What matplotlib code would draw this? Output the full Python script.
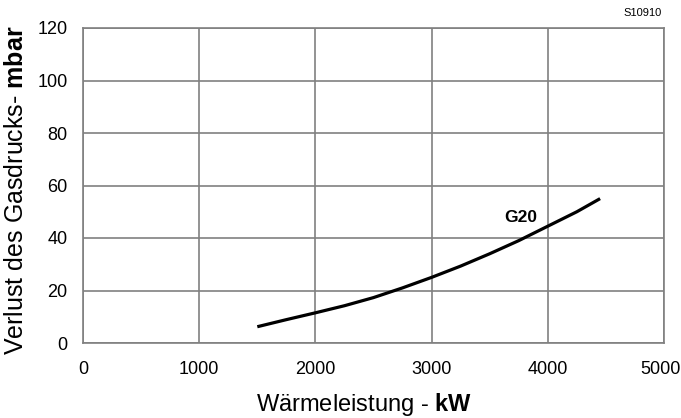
import numpy as np
import matplotlib.pyplot as plt
from matplotlib.transforms import ScaledTranslation

plt.rcParams['font.family'] = ['Liberation Sans', 'DejaVu Sans']
plt.rcParams['mathtext.fontset'] = 'custom'
plt.rcParams['mathtext.rm'] = 'Liberation Sans'
plt.rcParams['mathtext.bf'] = 'Liberation Sans:bold'

# G20 curve
power_kw = [1500, 1750, 2000, 2250, 2500, 2750, 3000, 3250, 3500, 3750, 4000, 4250, 4450]
loss_mbar = [6.2, 8.9, 11.5, 14.2, 17.3, 21.0, 25.0, 29.3, 34.0, 39.0, 44.5, 50.0, 55.0]

x_ticks = [0, 1000, 2000, 3000, 4000, 5000]
y_ticks = [0, 20, 40, 60, 80, 100, 120]

W, H = 681, 418
fig = plt.figure(figsize=(W / 100, H / 100), dpi=100)
ax = fig.add_axes([83 / W, 1 - 343 / H, 581 / W, 315 / H])

ax.plot(power_kw, loss_mbar, color='black', lw=2.3, solid_capstyle='butt')
ax.text(3765, 48, 'G20', fontsize=12.5, fontweight='bold', ha='center', va='center')

ax.set_xlim(0, 5000)
ax.set_ylim(0, 120)
ax.set_xticks(x_ticks)
ax.set_yticks(y_ticks)
ax.grid(True, color='#808080', lw=1.2)
ax.set_axisbelow(True)
for s in ax.spines.values():
    s.set_color('#808080')
    s.set_linewidth(1.2)
ax.tick_params(length=0, labelsize=13, labelcolor='black')
ax.tick_params(axis='x', pad=13)
ax.tick_params(axis='y', pad=11)

# last x tick label sits at the right edge, nudge it in a bit
last = ax.get_xticklabels()[-1]
last.set_transform(last.get_transform() + ScaledTranslation(-4 / 100, 0, fig.dpi_scale_trans))

# axis titles placed by hand to match the original layout
fig.text(364 / W, 1 - 411 / H, 'Wärmeleistung - $\\mathbf{kW}$',
         fontsize=17, ha='center', va='baseline')
fig.text(16.5 / W, 1 - 190 / H, 'Verlust des Gasdrucks- $\\mathbf{mbar}$',
         fontsize=18, ha='center', va='center', rotation=90)

fig.text(662 / W, 1 - 13 / H, 'S10910', fontsize=8, ha='right', va='center')

plt.savefig('out.png', dpi=100)
